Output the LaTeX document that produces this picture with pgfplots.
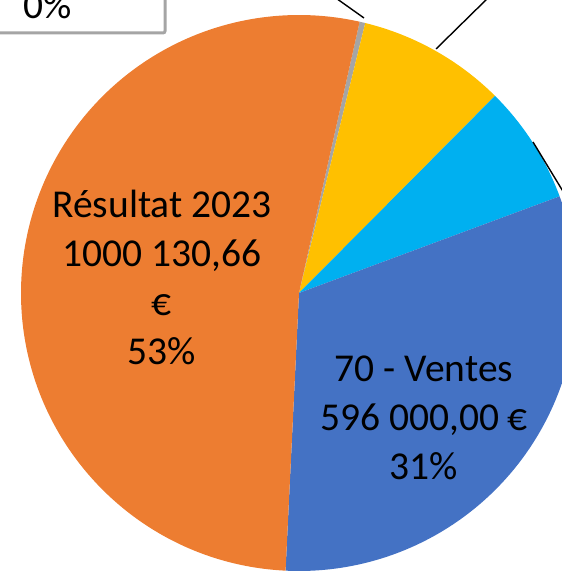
\documentclass[border=0pt]{standalone}
\usepackage{fontspec}
\setmainfont{Carlito}
\usepackage{trimclip}
\usepackage{pgfplots}
\usepackage{pgfplotstable}
\pgfplotsset{compat=1.18}

\definecolor{cGray}{HTML}{A5A5A5}
\definecolor{cYellow}{HTML}{FFC000}
\definecolor{cCyan}{HTML}{00B0F0}
\definecolor{cBlue}{HTML}{4472C4}
\definecolor{cOrange}{HTML}{ED7D31}

% slice values in euros, clockwise from the thin grey slice
\pgfplotstableread[col sep=comma]{
slice,value
autre,6250
jaune,163600
cyan,130700
ventes,596000
resultat,1000130.66
}\piedata

\begin{document}%
\pgfplotstablegetelem{0}{value}\of\piedata \let\vA\pgfplotsretval%
\pgfplotstablegetelem{1}{value}\of\piedata \let\vB\pgfplotsretval%
\pgfplotstablegetelem{2}{value}\of\piedata \let\vC\pgfplotsretval%
\pgfplotstablegetelem{3}{value}\of\piedata \let\vD\pgfplotsretval%
\pgfplotstablegetelem{4}{value}\of\piedata \let\vE\pgfplotsretval%
\edef\tot{\fpeval{\vA+\vB+\vC+\vD+\vE}}%
\def\aS{77.4}%
\edef\aA{\fpeval{\aS-360*\vA/\tot}}%
\edef\aB{\fpeval{\aA-360*\vB/\tot}}%
\edef\aC{\fpeval{\aB-360*\vC/\tot}}%
\edef\aD{\fpeval{\aC-360*\vD/\tot}}%
\edef\aE{\fpeval{\aD-360*\vE/\tot}}%
\def\R{278pt}%
\clipbox{50pt 50pt 88pt 79pt}{%
\begin{tikzpicture}
\path (-50pt,-50pt) rectangle (650pt,650pt);
\begin{axis}[
    hide axis,
    scale only axis,
    width=562pt, height=571pt,
    xmin=0, xmax=562, ymin=0, ymax=571,
    clip=false,
]
\fill[cGray]   (axis cs:299,278) -- ++(\aS:\R) arc[start angle=\aS, end angle=\aA, radius=\R] -- cycle;
\fill[cYellow] (axis cs:299,278) -- ++(\aA:\R) arc[start angle=\aA, end angle=\aB, radius=\R] -- cycle;
\fill[cCyan]   (axis cs:299,278) -- ++(\aB:\R) arc[start angle=\aB, end angle=\aC, radius=\R] -- cycle;
\fill[cBlue]   (axis cs:299,278) -- ++(\aC:\R) arc[start angle=\aC, end angle=\aD, radius=\R] -- cycle;
\fill[cOrange] (axis cs:299,278) -- ++(\aD:\R) arc[start angle=\aD, end angle=\aE, radius=\R] -- cycle;

% leader lines
\draw[black, line width=1.4pt] (axis cs:364,553) -- (axis cs:333,575);
\draw[black, line width=1.4pt] (axis cs:436,522) -- (axis cs:490,575);
\draw[black, line width=1.4pt] (axis cs:533,429) -- (axis cs:564,378);

% callout box of the small slice
\draw[cGray, line width=3pt, fill=white, rounded corners=2pt]
    (axis cs:-20,600) rectangle (axis cs:165,538);
\node[anchor=base, font=\fontsize{39.5}{49}\selectfont] at (axis cs:48,552.5) {0\%};

\node[align=center, font=\fontsize{39.5}{49}\selectfont] at (axis cs:162,294)
    {Résultat 2023\\1000 130,66\\€\\53\%};
\node[align=center, font=\fontsize{39.5}{49}\selectfont] at (axis cs:424,153)
    {70 - Ventes\\596 000,00 €\\31\%};
\end{axis}
\end{tikzpicture}}%
\end{document}
